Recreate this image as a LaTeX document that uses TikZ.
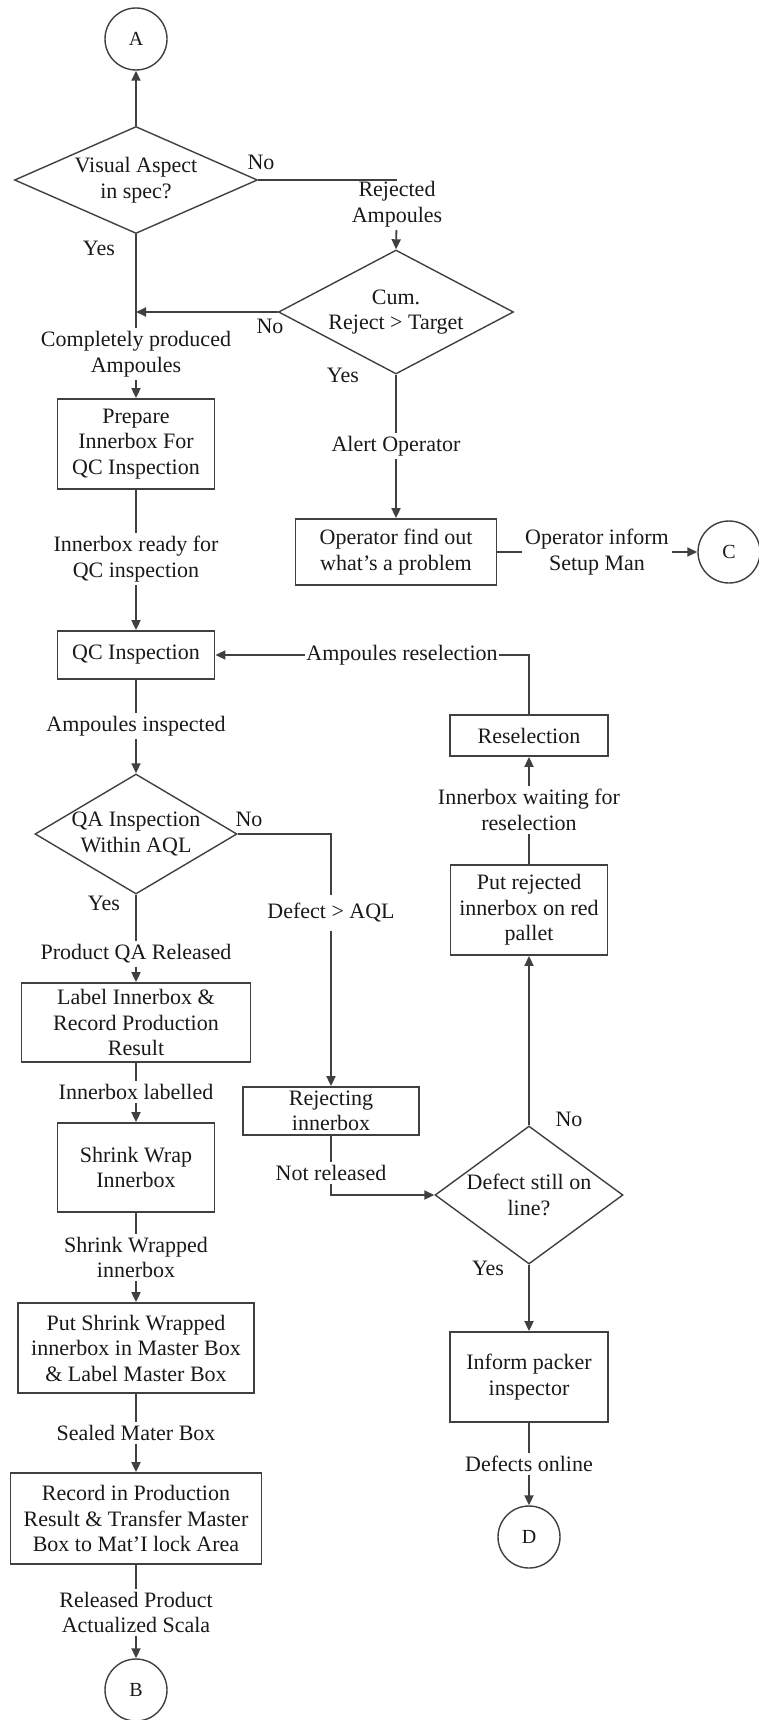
\documentclass[tikz,border=0pt]{standalone}
\usepackage{fontspec}
\setmainfont{Liberation Serif}
\usetikzlibrary{shapes.geometric,arrows.meta}

\definecolor{linec}{gray}{0.25}
\definecolor{textc}{gray}{0.1}
\newcommand{\flowfont}{\fontsize{22}{25.5}\selectfont}
\newcommand{\circfont}{\fontsize{20}{24}\selectfont}

\tikzset{
  box/.style={draw=linec, line width=1.8pt, rectangle, inner sep=0pt,
              align=center, text=textc, font=\flowfont},
  decision/.style={draw=linec, line width=1.4pt, diamond, inner sep=0pt},
  dtxt/.style={align=center, inner sep=0pt, text=textc, font=\flowfont},
  connector/.style={draw=linec, circle, line width=1.4pt, inner sep=0pt,
              minimum size=62pt, text=textc, font=\circfont},
  lab/.style={align=center, inner sep=3pt, text=textc, font=\flowfont},
  yn/.style={inner sep=0pt, text=textc, font=\flowfont},
  flow/.style={draw=linec, line width=1.8pt},
  arr/.style={flow, -{Triangle[length=10pt,width=9pt]}},
}

\begin{document}
\begin{tikzpicture}[x=1pt,y=-1pt]
\useasboundingbox (0,0) rectangle (759,1720);

% ---- main column ----
\node[connector] (A) at (136,39) {A};
\node[decision, minimum width=243pt, minimum height=107pt] (d1) at (136,180) {};
\node[dtxt] (d1t) at (d1) {Visual Aspect\\in spec?};
\node[box, minimum width=157pt, minimum height=90pt] (prep) at (136,444)
  {Prepare\\Innerbox For\\QC Inspection};
\node[box, minimum width=157pt, minimum height=48pt] (qc) at (136,655) {QC Inspection};
\node[decision, minimum width=202pt, minimum height=120pt] (d3) at (136,834) {};
\node[dtxt] (d3t) at (d3) {QA Inspection\\Within AQL};
\node[box, minimum width=229pt, minimum height=79pt] (lab) at (136,1022.5)
  {Label Innerbox \&\\Record Production\\Result};
\node[box, minimum width=157pt, minimum height=89pt] (shr) at (136,1167.5)
  {Shrink Wrap\\Innerbox};
\node[box, minimum width=236pt, minimum height=90pt] (put) at (136,1348)
  {Put Shrink Wrapped\\innerbox in Master Box\\\& Label Master Box};
\node[box, minimum width=251pt, minimum height=91pt] (rec) at (136,1518.5)
  {Record in Production\\Result \& Transfer Master\\Box to Mat’I lock Area};
\node[connector] (B) at (136,1690) {B};

% ---- middle column ----
\node[decision, minimum width=235pt, minimum height=124pt] (d2) at (396,312) {};
\node[dtxt] (d2t) at (d2) {Cum.\\Reject > Target};
\node[box, minimum width=201pt, minimum height=66pt] (op) at (396,552)
  {Operator find out\\what’s a problem};
\node[connector] (C) at (729,552) {C};
\node[box, minimum width=176pt, minimum height=48pt] (rej) at (331,1111)
  {Rejecting\\innerbox};

% ---- right column ----
\node[box, minimum width=158pt, minimum height=41pt] (resel) at (529,735.5) {Reselection};
\node[box, minimum width=157pt, minimum height=90pt] (pal) at (529,910)
  {Put rejected\\innerbox on red\\pallet};
\node[decision, minimum width=188pt, minimum height=138pt] (d4) at (529,1195) {};
\node[dtxt] (d4t) at (d4) {Defect still on\\line?};
\node[box, minimum width=158pt, minimum height=90pt] (inf) at (529,1377)
  {Inform packer\\inspector};
\node[connector] (D) at (529,1537) {D};

% ---- connector labels ----
\node[lab] (cp) at (136,354) {Completely produced\\Ampoules};
\node[lab] (rejlab) at (397,204) {Rejected\\Ampoules};
\node[lab] (alert) at (396,446) {Alert Operator};
\node[lab] (inform) at (597,552) {Operator inform\\Setup Man};
\node[lab] (ready) at (136,559) {Innerbox ready for\\QC inspection};
\node[lab, inner sep=1pt] (amres) at (402,655) {Ampoules reselection};
\node[lab] (insp) at (136,726) {Ampoules inspected};
\node[lab, inner ysep=8pt] (defaql) at (331,913) {Defect > AQL};
\node[lab] (qarel) at (136,954) {Product QA Released};
\node[lab] (labl) at (136,1092) {Innerbox labelled};
\node[lab] (wrapped) at (136,1257.5) {Shrink Wrapped\\innerbox};
\node[lab] (sealed) at (136,1433) {Sealed Mater Box};
\node[lab] (released) at (136,1612.5) {Released Product\\Actualized Scala};
\node[lab] (notrel) at (331,1173) {Not released};
\node[lab] (waiting) at (529,810) {Innerbox waiting for\\reselection};
\node[lab] (online) at (529,1464) {Defects online};

% ---- decision outcomes ----
\node[yn] (d1no)  at (261,162)  {No};
\node[yn] (d1yes) at (99,248)   {Yes};
\node[yn] (d2no)  at (270,326)  {No};
\node[yn] (d2yes) at (343,375)  {Yes};
\node[yn] (d3no)  at (249,819)  {No};
\node[yn] (d3yes) at (104,903)  {Yes};
\node[yn] (d4no)  at (569,1119) {No};
\node[yn] (d4yes) at (488,1268) {Yes};

% ---- flow lines ----
\coordinate (j1) at (d2.west -| d1.south);
\draw[arr]  (d1.north) -- (A.south);
\draw[flow] (d1.south) -- (cp);
\draw[arr]  (cp) -- (prep);
\draw[flow] (d1.east) -- (d1.east -| rejlab);
\draw[arr]  (rejlab) -- (d2.north);
\draw[arr]  (d2.west) -- (j1);
\draw[flow] (d2.south) -- (alert);
\draw[arr]  (alert) -- (op);
\draw[flow] (op.east) -- (op.east -| inform.west);
\draw[arr]  (inform.east |- C.west) -- (C.west);
\draw[flow] (prep) -- (ready);
\draw[arr]  (ready) -- (qc);
\draw[flow] (resel.north) |- (amres.east);
\draw[arr]  (amres.west) -- (amres.west -| qc.east);
\draw[flow] (qc) -- (insp);
\draw[arr]  (insp) -- (d3.north);
\draw[flow] (d3.east) -| (defaql.north);
\draw[arr]  (defaql) -- (rej);
\draw[flow] (d3.south) -- (qarel);
\draw[arr]  (qarel) -- (lab);
\draw[flow] (lab) -- (labl);
\draw[arr]  (labl) -- (shr);
\draw[flow] (shr) -- (wrapped);
\draw[arr]  (wrapped) -- (put);
\draw[flow] (put) -- (sealed);
\draw[arr]  (sealed) -- (rec);
\draw[flow] (rec) -- (released);
\draw[arr]  (released) -- (B);
\draw[flow] (rej) -- (notrel);
\draw[arr]  (notrel.south) |- (d4.west);
\draw[arr]  (d4.north) -- (pal.south);
\draw[flow] (pal) -- (waiting);
\draw[arr]  (waiting) -- (resel);
\draw[arr]  (d4.south) -- (inf.north);
\draw[flow] (inf) -- (online);
\draw[arr]  (online) -- (D);
\end{tikzpicture}
\end{document}
